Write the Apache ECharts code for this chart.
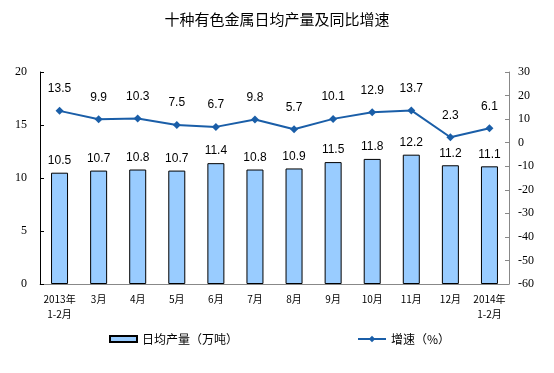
<!DOCTYPE html>
<html><head><meta charset="utf-8">
<script src="https://cdn.jsdelivr.net/npm/echarts@6/dist/echarts.min.js"></script>
<style>html,body{margin:0;padding:0;background:#fff}#c{width:554px;height:373px}</style>
</head><body><div id="c"></div>
<script>
const categories = ['2013年\n1-2月','3月','4月','5月','6月','7月','8月','9月','10月','11月','12月','2014年\n1-2月'];
const dailyOutput = [10.5,10.7,10.8,10.7,11.4,10.8,10.9,11.5,11.8,12.2,11.2,11.1];
const growth = [13.5,9.9,10.3,7.5,6.7,9.8,5.7,10.1,12.9,13.7,2.3,6.1];
const leftTicks = {min:0,max:20,interval:5};
const rightTicks = {min:-60,max:30,interval:10};

const chart = echarts.init(document.getElementById('c'));
chart.setOption({
  animation:false,
  title:{text:'十种有色金属日均产量及同比增速',left:'center',top:7,
    textStyle:{fontFamily:'Noto Sans CJK SC',fontSize:15,fontWeight:'normal',color:'#000'}},
  legend:[
    {data:[{name:'日均产量（万吨）',icon:'rect'}],left:104,top:328,itemWidth:27,itemHeight:6,itemGap:4,
     textStyle:{fontFamily:'Noto Sans CJK SC',fontSize:12,color:'#000'}},
    {data:['增速（%）'],left:352,top:328,itemWidth:28,itemHeight:8,itemGap:3,
     textStyle:{fontFamily:'Noto Sans CJK SC',fontSize:12,color:'#000'}}
  ],
  grid:{left:40,right:45,top:72,bottom:89},
  xAxis:{type:'category',data:categories,
    axisLine:{lineStyle:{color:'#888',width:1}},
    axisTick:{inside:true,length:3,alignWithLabel:false,lineStyle:{color:'#888'}},
    axisLabel:{fontFamily:'Noto Sans CJK SC',fontSize:10,color:'#000',margin:8,lineHeight:15,interval:0}},
  yAxis:[
    {type:'value',min:leftTicks.min,max:leftTicks.max,interval:leftTicks.interval,
     axisLine:{show:true,lineStyle:{color:'#000'}},
     axisTick:{show:true,inside:true,length:4,lineStyle:{color:'#000'}},
     splitLine:{show:false},
     axisLabel:{fontFamily:'Liberation Serif',fontSize:12,color:'#000',margin:13}},
    {type:'value',min:rightTicks.min,max:rightTicks.max,interval:rightTicks.interval,
     axisLine:{show:true,lineStyle:{color:'#888'}},
     axisTick:{show:true,inside:true,length:4,lineStyle:{color:'#888'}},
     splitLine:{show:false},
     axisLabel:{fontFamily:'Liberation Serif',fontSize:12,color:'#000',margin:9}}
  ],
  series:[
    {name:'日均产量（万吨）',type:'bar',data:dailyOutput,barWidth:17,yAxisIndex:0,
     itemStyle:{color:'#99ccff',borderColor:'#000',borderWidth:1},
     label:{show:true,position:'top',distance:6,fontFamily:'Liberation Sans',fontSize:12,color:'#000'}},
    {name:'增速（%）',type:'line',data:growth,yAxisIndex:1,symbol:'diamond',symbolSize:8,
     lineStyle:{color:'#1a5ea8',width:2},itemStyle:{color:'#1a5ea8'},
     label:{show:true,position:'top',distance:12,fontFamily:'Liberation Sans',fontSize:12,color:'#000'}}
  ]
});
</script></body></html>
